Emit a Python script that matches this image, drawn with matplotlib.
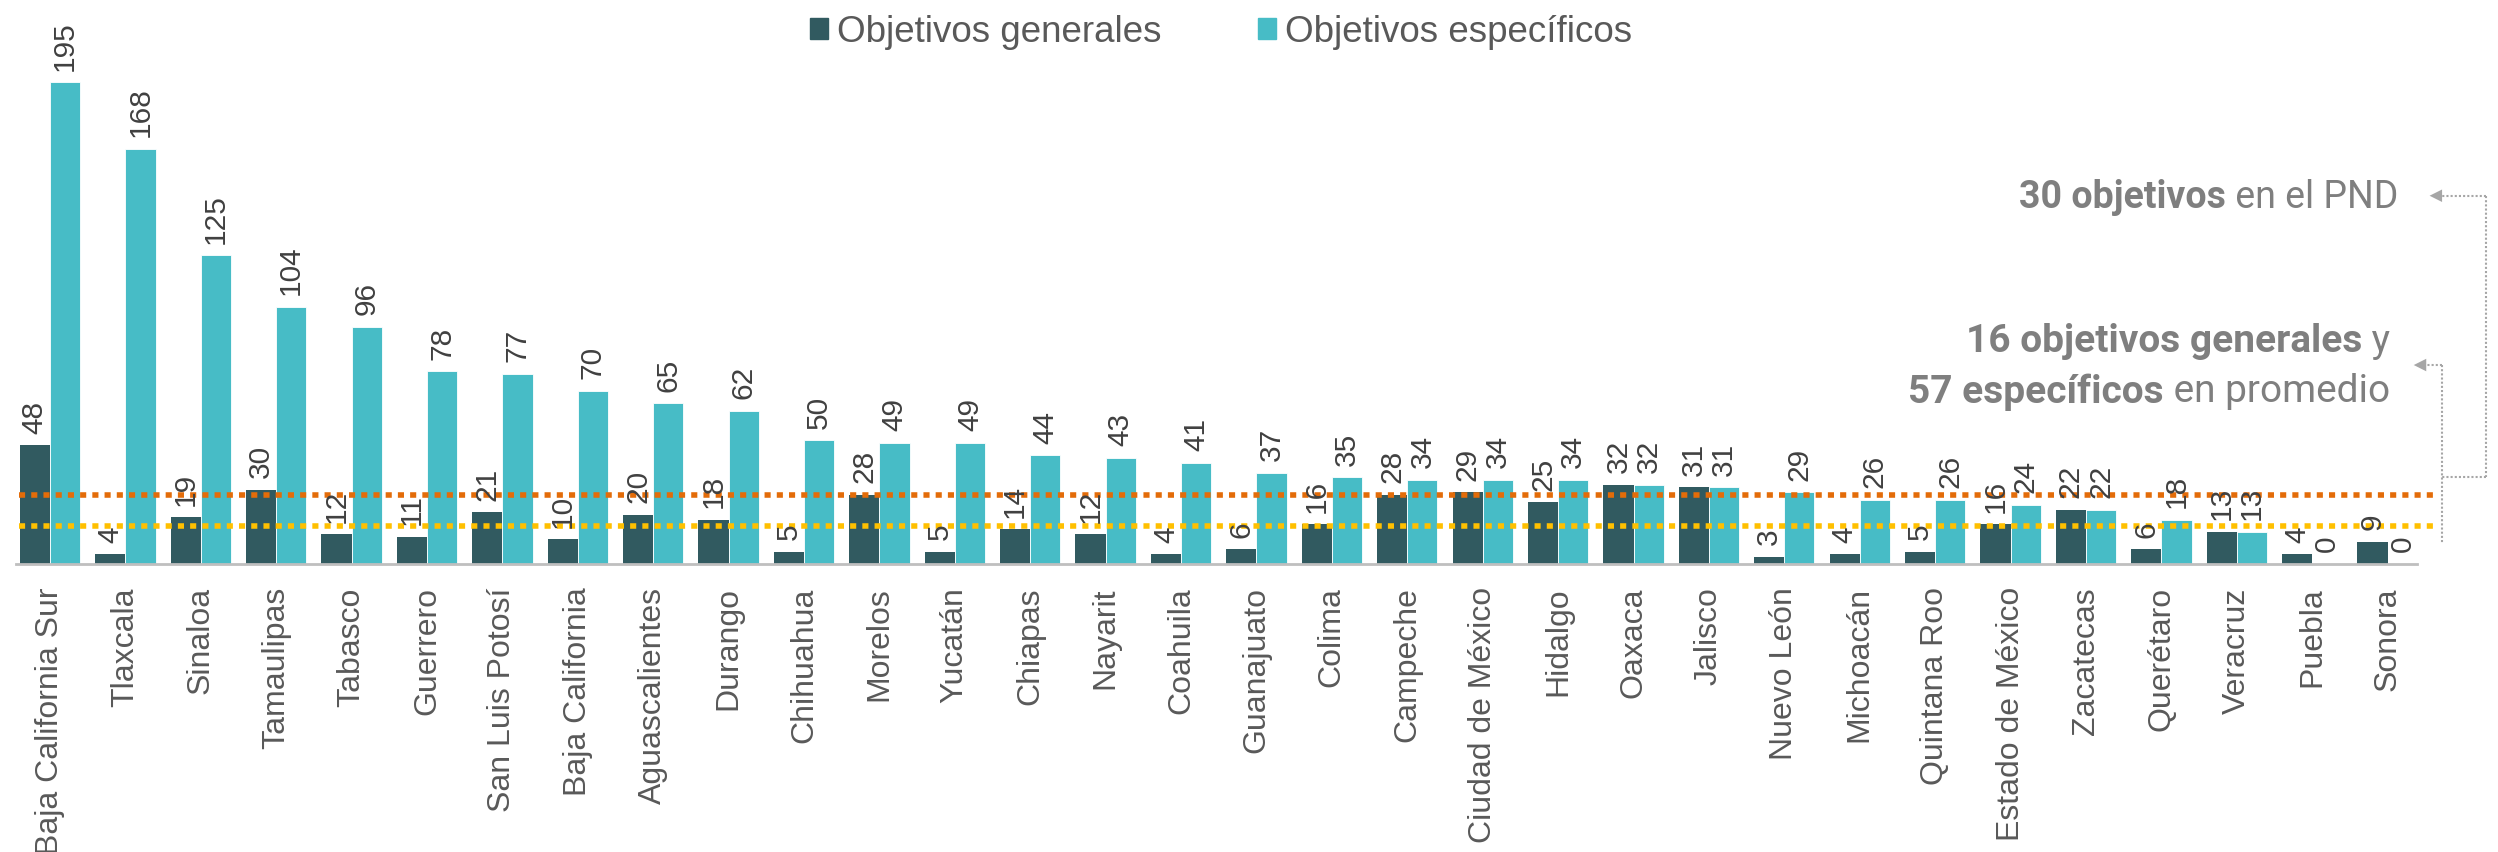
import matplotlib
matplotlib.use("Agg")
import matplotlib.pyplot as plt
from matplotlib.patches import Patch
import numpy as np

states = ["Baja California Sur", "Tlaxcala", "Sinaloa", "Tamaulipas", "Tabasco", "Guerrero",
          "San Luis Potosí", "Baja California", "Aguascalientes", "Durango", "Chihuahua",
          "Morelos", "Yucatán", "Chiapas", "Nayarit", "Coahuila", "Guanajuato", "Colima",
          "Campeche", "Ciudad de México", "Hidalgo", "Oaxaca", "Jalisco", "Nuevo León",
          "Michoacán", "Quintana Roo", "Estado de México", "Zacatecas", "Querétaro",
          "Veracruz", "Puebla", "Sonora"]
generales = [48, 4, 19, 30, 12, 11, 21, 10, 20, 18, 5, 28, 5, 14, 12, 4, 6, 16, 28, 29,
             25, 32, 31, 3, 4, 5, 16, 22, 6, 13, 4, 9]
especificos = [195, 168, 125, 104, 96, 78, 77, 70, 65, 62, 50, 49, 49, 44, 43, 41, 37, 35,
               34, 34, 34, 32, 31, 29, 26, 26, 24, 22, 18, 13, 0, 0]
series_names = ["Objetivos generales", "Objetivos específicos"]
line_pnd = 28          # reference line (as drawn)
line_promedio = 15.5   # reference line (as drawn)

C_DARK = "#315A60"
C_TEAL = "#47BCC6"
C_ORANGE = "#E36C09"
C_YELLOW = "#FFC000"
C_TXT = "#595959"
C_ANN = "#7F7F7F"

FONT = "Liberation Sans"
TICK_FS = 23
VAL_FS = 21.5
LEG_FS = 26.5

W, H = 2498, 853
fig = plt.figure(figsize=(W / 100, H / 100), dpi=100)
ax = fig.add_axes([16 / W, (H - 565) / H, 2401 / W, 565 / H])

x = np.arange(len(states))
bw = 0.4
b1 = ax.bar(x - bw / 2, generales, bw, color=C_DARK, zorder=2)
b2 = ax.bar(x + bw / 2, especificos, bw, color=C_TEAL, edgecolor="white", linewidth=0.6, zorder=2)

for bars, vals in ((b1, generales), (b2, especificos)):
    for r, v in zip(bars, vals):
        ax.annotate(str(v), (r.get_x() + r.get_width() / 2, v), xytext=(0, 9),
                    textcoords="offset points", rotation=90, ha="center", va="bottom",
                    fontsize=VAL_FS, color="#404040", family=FONT, zorder=4)

ax.set_xlim(-0.45, 31.39)
ax.set_ylim(0, 228.6)

ax.plot([-0.41, 31.6], [line_pnd, line_pnd], color=C_ORANGE, lw=4,
        linestyle=(0, (1.1, 1.1)), clip_on=False, zorder=3, dash_capstyle="butt")
ax.plot([-0.41, 31.6], [line_promedio, line_promedio], color=C_YELLOW, lw=4,
        linestyle=(0, (1.1, 1.1)), clip_on=False, zorder=3, dash_capstyle="butt")

for s in ["top", "right", "left"]:
    ax.spines[s].set_visible(False)
ax.spines["bottom"].set_color("#BFBFBF")
ax.spines["bottom"].set_linewidth(2)
ax.set_yticks([])
ax.set_xticks(x)
ax.set_xticklabels(states, rotation=90, fontsize=TICK_FS, color=C_TXT, family=FONT)
ax.tick_params(axis="x", length=0, pad=16)

# legend
handles = [Patch(color=C_DARK), Patch(color=C_TEAL)]
fig.legend(handles, series_names, loc="center", bbox_to_anchor=(1221 / W, 1 - 33 / H),
           ncol=2, frameon=False, handlelength=0.5, handleheight=0.52,
           handletextpad=0.25, columnspacing=2.6,
           prop={"family": FONT, "size": LEG_FS})
for t in fig.legends[0].get_texts():
    t.set_color(C_TXT)

# annotation brackets (data coords, outside axes)
gcol = "#A6A6A6"
ls_dot = (0, (1, 1))
ax.plot([32.31, 31.6], [149, 149], color=gcol, lw=1.5, ls=ls_dot, clip_on=False)
ax.plot([32.31, 32.31], [149, 35], color=gcol, lw=1.5, ls=ls_dot, clip_on=False)
ax.plot([32.31, 31.72], [35, 35], color=gcol, lw=1.5, ls=ls_dot, clip_on=False)
ax.plot([31.72, 31.45], [80.5, 80.5], color=gcol, lw=1.5, ls=ls_dot, clip_on=False)
ax.plot([31.72, 31.72], [80.5, 8], color=gcol, lw=1.5, ls=ls_dot, clip_on=False)
ax.annotate("", xy=(31.52, 149), xytext=(31.75, 149),
            arrowprops=dict(arrowstyle="-|>,head_length=0.9,head_width=0.45", color=gcol, lw=0),
            annotation_clip=False)
ax.annotate("", xy=(31.31, 80.5), xytext=(31.55, 80.5),
            arrowprops=dict(arrowstyle="-|>,head_length=0.9,head_width=0.45", color=gcol, lw=0),
            annotation_clip=False)

# text annotations: bold part + regular part
fig.canvas.draw()
renderer = fig.canvas.get_renderer()
AFONT = "Roboto"


def two_part(x_right_px, y_center_px, bold, normal, size):
    y = 1 - y_center_px / H
    t_norm = fig.text(x_right_px / W, y, normal, ha="right", va="center",
                      fontsize=size, color=C_ANN, family=AFONT)
    bb = t_norm.get_window_extent(renderer)
    fig.text(bb.x0 / W, y, bold, ha="right", va="center", fontsize=size,
             color=C_ANN, family=AFONT, fontweight="bold")


two_part(2398, 197, "30 objetivos", " en el PND", 27)
two_part(2390, 342, "16 objetivos generales", " y", 28)
two_part(2390, 392, "57 específicos", " en promedio", 28)

fig.savefig("out.png", dpi=100)
